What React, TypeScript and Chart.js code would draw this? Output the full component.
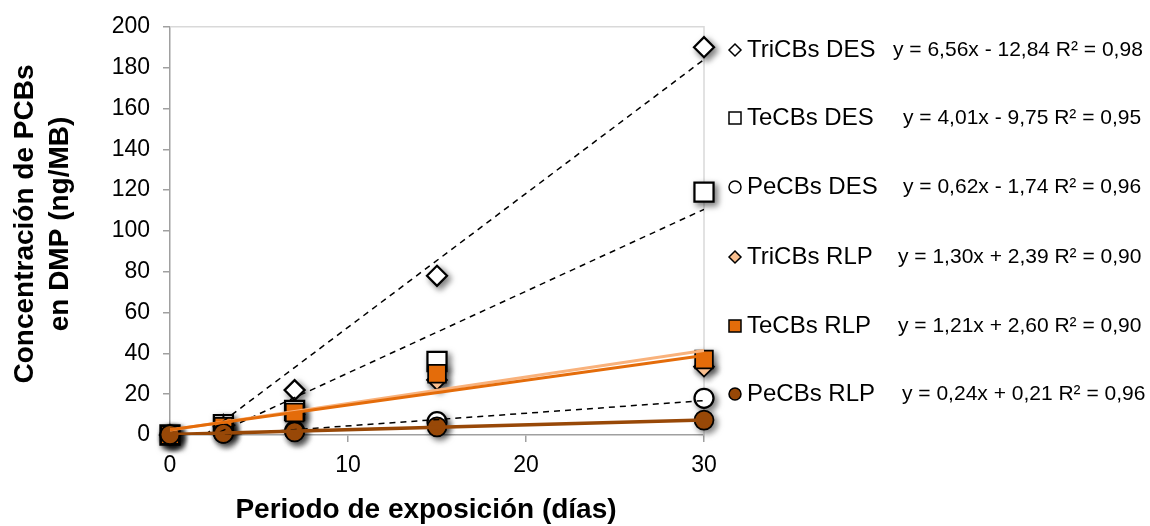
import React, { useEffect, useRef } from 'react';
import { Chart, registerables } from 'chart.js';

Chart.register(...registerables);

// ---- data ----
const days = [0, 3, 7, 15, 30];
const triDES = [0, 5, 22, 78, 190];
const teDES = [0, 5, 12, 36, 119];
const peDES = [0, 1, 2, 6.5, 18];
const triRLP = [0, 4, 10, 27, 33.5];
const teRLP = [0, 4, 11, 30, 37];
const peRLP = [0.2, 0.8, 1.5, 4, 7.3];

// trend lines (endpoints at x = 0 and x = 30, from the printed equations)
const trendX = [0, 30];
const trendTriDES = [-12.84, 183.96];
const trendTeDES = [-9.75, 110.55];
const trendPeDES = [-1.74, 16.86];
const trendTriRLP = [2.39, 41.39];
const trendTeRLP = [2.6, 38.9];
const trendPeRLP = [0.21, 7.41];

const seriesLabels = ['TriCBs DES', 'TeCBs DES', 'PeCBs DES', 'TriCBs RLP', 'TeCBs RLP', 'PeCBs RLP'];
const equations = [
  'y = 6,56x - 12,84 R² = 0,98',
  'y = 4,01x - 9,75 R² = 0,95',
  'y = 0,62x - 1,74 R² = 0,96',
  'y = 1,30x + 2,39 R² = 0,90',
  'y = 1,21x + 2,60 R² = 0,90',
  'y = 0,24x + 0,21 R² = 0,96',
];
const xTitle = 'Periodo de exposición (días)';
const yTitle = ['Concentración de PCBs', 'en DMP (ng/MB)'];

const FONT = '"Liberation Sans", Arial, sans-serif';
const LIGHT_ORANGE = '#FAC090';
const LIGHT_ORANGE_LINE = '#F9B27C';
const ORANGE = '#E46C0A';
const BROWN = '#984807';

const toPts = (xs: number[], ys: number[]) => xs.map((x, i) => ({ x, y: ys[i] }));

// legend layout
const legendRows = [50, 118, 187, 257, 326, 394];
const eqX = [893, 903, 903, 898, 898, 902];
const legendMarkers = [
  { style: 'diamond', fill: '#ffffff' },
  { style: 'square', fill: '#ffffff' },
  { style: 'circle', fill: '#ffffff' },
  { style: 'diamond', fill: LIGHT_ORANGE },
  { style: 'square', fill: ORANGE },
  { style: 'circle', fill: BROWN },
];

const decorPlugin = {
  id: 'decor',
  beforeDatasetsDraw(chart: any) {
    const { ctx, chartArea } = chart;
    ctx.save();
    ctx.strokeStyle = '#d9d9d9';
    ctx.lineWidth = 1.5;
    ctx.beginPath();
    ctx.moveTo(chartArea.left, chartArea.top);
    ctx.lineTo(chartArea.right, chartArea.top);
    ctx.lineTo(chartArea.right, chartArea.bottom);
    ctx.stroke();
    ctx.restore();

    // soft drop shadows beneath every marker (drawn off-canvas, only the shadow lands)
    const OFF = 3000;
    chart.data.datasets.forEach((ds: any, i: number) => {
      if (!ds.shadow) return;
      const meta = chart.getDatasetMeta(i);
      meta.data.forEach((el: any) => {
        ctx.save();
        ctx.translate(-OFF, 0);
        ctx.shadowColor = 'rgba(0,0,0,0.5)';
        ctx.shadowBlur = 6;
        ctx.shadowOffsetX = OFF + 3;
        ctx.shadowOffsetY = 3;
        el.draw(ctx);
        ctx.restore();
      });
    });
  },
  afterDraw(chart: any) {
    const { ctx } = chart;
    ctx.save();
    // axis titles
    ctx.fillStyle = '#000';
    ctx.font = `bold 28px ${FONT}`;
    ctx.textAlign = 'center';
    ctx.textBaseline = 'middle';
    ctx.fillText(xTitle, 426, 510);
    ctx.save();
    ctx.translate(25, 224);
    ctx.rotate(-Math.PI / 2);
    ctx.fillText(yTitle[0], 0, 0);
    ctx.fillText(yTitle[1], 0, 35);
    ctx.restore();

    // legend
    legendRows.forEach((y, i) => {
      const m = legendMarkers[i];
      const mx = 735;
      ctx.fillStyle = m.fill;
      ctx.strokeStyle = '#000';
      ctx.lineWidth = 1.5;
      ctx.beginPath();
      if (m.style === 'diamond') {
        ctx.moveTo(mx - 6, y);
        ctx.lineTo(mx, y - 6);
        ctx.lineTo(mx + 6, y);
        ctx.lineTo(mx, y + 6);
        ctx.closePath();
      } else if (m.style === 'square') {
        ctx.rect(mx - 6, y - 6, 12, 12);
      } else {
        ctx.arc(mx, y, 6, 0, Math.PI * 2);
      }
      ctx.fill();
      ctx.stroke();

      ctx.fillStyle = '#000';
      ctx.textAlign = 'left';
      ctx.textBaseline = 'middle';
      ctx.font = `24px ${FONT}`;
      ctx.fillText(seriesLabels[i], 747, y);
      ctx.font = `21px ${FONT}`;
      ctx.fillText(equations[i], eqX[i], y);
    });
    ctx.restore();
  },
};

export default function App() {
  const ref = useRef<HTMLCanvasElement | null>(null);

  useEffect(() => {
    document.body.style.margin = '0';
    const canvas = ref.current;
    if (!canvas) return;

    const marker = (
      idx: number,
      ys: number[],
      style: string,
      radius: number,
      fill: string,
      border = 2.25,
    ) => ({
      label: seriesLabels[idx],
      data: toPts(days, ys),
      showLine: false,
      pointStyle: style,
      pointRadius: radius,
      pointHoverRadius: radius,
      pointBackgroundColor: fill,
      pointBorderColor: '#000',
      pointBorderWidth: border,
      shadow: true,
      clip: false,
      order: 12 - idx,
    });

    const trend = (idx: number, ys: number[], color: string, width: number, dash: number[]) => ({
      label: '',
      data: toPts(trendX, ys),
      showLine: true,
      borderColor: color,
      borderWidth: width,
      borderDash: dash,
      pointRadius: 0,
      pointHoverRadius: 0,
      fill: false,
      order: 6 - idx,
    });

    const chart = new Chart(canvas, {
      type: 'scatter',
      data: {
        datasets: [
          marker(0, triDES, 'rectRot', 10, '#ffffff'),
          marker(1, teDES, 'rect', 13.5, '#ffffff'),
          marker(2, peDES, 'circle', 9.5, '#ffffff'),
          marker(3, triRLP, 'rectRot', 10, LIGHT_ORANGE, 1.75),
          marker(4, teRLP, 'rect', 12.5, ORANGE, 1.75),
          marker(5, peRLP, 'circle', 9.5, BROWN, 1.75),
          trend(0, trendTriDES, '#000', 1.5, [6, 5]),
          trend(1, trendTeDES, '#000', 1.5, [6, 5]),
          trend(2, trendPeDES, '#000', 1.5, [6, 5]),
          trend(3, trendTriRLP, LIGHT_ORANGE_LINE, 3, []),
          trend(4, trendTeRLP, ORANGE, 3, []),
          trend(5, trendPeRLP, BROWN, 3.5, []),
        ] as any,
      },
      options: {
        animation: false,
        responsive: false,
        devicePixelRatio: 1,
        layout: { padding: { top: 23, right: 446, left: 0, bottom: 0 } },
        plugins: {
          legend: { display: false },
          tooltip: { enabled: false },
          title: { display: false },
        },
        scales: {
          x: {
            type: 'linear',
            min: 0,
            max: 30,
            afterFit: (s: any) => {
              s.height = 91;
            },
            ticks: {
              stepSize: 10,
              color: '#000',
              font: { family: FONT, size: 23 },
              padding: 10,
            },
            grid: {
              drawOnChartArea: false,
              drawTicks: true,
              tickLength: 7,
              color: '#a0a0a0',
              lineWidth: 1.5,
            },
            border: { display: true, color: '#a0a0a0', width: 1.5 },
          },
          y: {
            type: 'linear',
            min: 0,
            max: 200,
            afterFit: (s: any) => {
              s.width = 170;
            },
            ticks: {
              stepSize: 20,
              color: '#000',
              font: { family: FONT, size: 23 },
              padding: 13,
            },
            grid: {
              drawOnChartArea: false,
              drawTicks: true,
              tickLength: 7,
              color: '#a0a0a0',
              lineWidth: 1.5,
            },
            border: { display: true, color: '#a0a0a0', width: 1.5 },
          },
        },
      } as any,
      plugins: [decorPlugin],
    });

    return () => chart.destroy();
  }, []);

  return (
    <div style={{ width: 1150, height: 526, background: '#fff' }}>
      <canvas ref={ref} width={1150} height={526} style={{ display: 'block' }} />
    </div>
  );
}
